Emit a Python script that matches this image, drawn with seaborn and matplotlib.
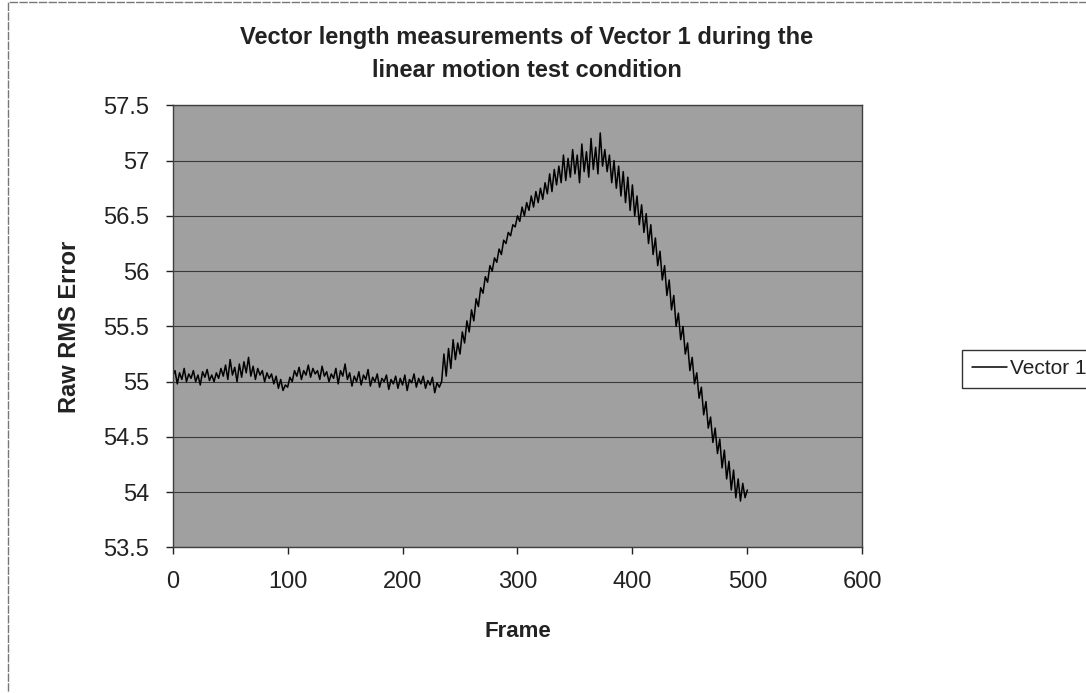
import numpy as np
import pandas as pd
import matplotlib
matplotlib.use("Agg")
import matplotlib.pyplot as plt
from matplotlib.patches import Rectangle
import seaborn as sns

frames = np.arange(0, 501, 2)

flat_part = [
    55.05, 55.10, 54.98, 55.08, 55.02, 55.12, 55.00, 55.07, 55.03, 55.10,
    55.00, 55.06, 54.97, 55.09, 55.04, 55.11, 55.01, 55.06, 55.00, 55.08,
    55.03, 55.12, 55.05, 55.15, 55.02, 55.20, 55.06, 55.13, 55.00, 55.16,
    55.04, 55.18, 55.08, 55.22, 55.05, 55.14, 55.02, 55.12, 55.06, 55.10,
    55.00, 55.08, 55.03, 55.07, 54.98, 55.05, 54.94, 55.02, 54.92, 54.97,
    54.95, 55.04, 55.00, 55.10, 55.05, 55.13, 55.02, 55.10, 55.06, 55.15,
    55.04, 55.12, 55.07, 55.10, 55.02, 55.14, 55.05, 55.09, 55.00, 55.07,
    55.03, 55.12, 54.98, 55.10, 55.05, 55.16, 55.02, 55.08, 54.96, 55.05,
    55.00, 55.09, 54.97, 55.06, 55.02, 55.11, 54.96, 55.04, 55.00, 55.07,
    54.95, 55.03, 55.00, 55.06, 54.93, 55.02, 54.98, 55.05, 54.94, 55.03,
    54.97, 55.06, 54.92, 55.02, 54.99, 55.07, 54.95, 55.03, 54.98, 55.05,
    54.94, 55.01, 54.97, 55.04, 54.90, 54.99, 54.95,
]
rise_part = [
    55.00, 55.25, 55.05, 55.30, 55.12, 55.38, 55.20, 55.35, 55.25, 55.45,
    55.35, 55.55, 55.45, 55.65, 55.55, 55.75, 55.68, 55.85, 55.80, 55.95,
    55.90, 56.05, 56.00, 56.12, 56.08, 56.20, 56.15, 56.28, 56.25, 56.35,
    56.32, 56.42, 56.40, 56.50,
]
peak_part = [
    56.45, 56.58, 56.50, 56.62, 56.55, 56.68, 56.58, 56.72, 56.62, 56.75,
    56.65, 56.80, 56.70, 56.88, 56.72, 56.92, 56.78, 56.95, 56.80, 57.05,
    56.82, 57.02, 56.85, 57.10, 56.88, 57.05, 56.80, 57.15, 56.90, 57.08,
    56.85, 57.20, 56.92, 57.12, 56.88, 57.25, 56.95, 57.10, 56.90, 57.05,
]
fall_part = [
    56.80, 57.00, 56.75, 56.95, 56.68, 56.90, 56.62, 56.85, 56.55, 56.78,
    56.50, 56.68, 56.42, 56.60, 56.35, 56.52, 56.25, 56.42, 56.15, 56.30,
    56.05, 56.18, 55.92, 56.05, 55.78, 55.92, 55.65, 55.78, 55.50, 55.62,
    55.38, 55.50, 55.25, 55.35, 55.10, 55.22, 54.98, 55.08, 54.85, 54.95,
    54.70, 54.82, 54.58, 54.68, 54.45, 54.58, 54.35, 54.48, 54.22, 54.38,
    54.12, 54.28, 54.02, 54.20, 53.95, 54.12, 53.92, 54.08, 53.95, 54.02,
]
vector_1 = flat_part + rise_part + peak_part + fall_part

y_ticks = [53.5, 54, 54.5, 55, 55.5, 56, 56.5, 57, 57.5]
y_tick_labels = ["53.5", "54", "54.5", "55", "55.5", "56", "56.5", "57", "57.5"]
x_ticks = [0, 100, 200, 300, 400, 500, 600]

df = pd.DataFrame({"Frame": frames, "Vector 1": vector_1})

sns.set_style("ticks")
plt.rcParams["font.family"] = ["Liberation Sans", "DejaVu Sans"]

fig = plt.figure(figsize=(10.86, 6.93), dpi=100)
ax = fig.add_axes([0.159, 0.21, 0.635, 0.638])
ax.set_facecolor("#a0a0a0")

sns.lineplot(data=df, x="Frame", y="Vector 1", color="black", linewidth=1.1,
             label="Vector 1", ax=ax)

ax.set_xlim(0, 600)
ax.set_ylim(53.5, 57.5)
ax.set_xticks(x_ticks)
ax.set_yticks(y_ticks)
ax.set_yticklabels(y_tick_labels)
ax.tick_params(axis="both", labelsize=17, direction="out", length=5, width=1, colors="#222222")
ax.tick_params(axis="x", pad=12)
ax.tick_params(axis="y", pad=12)
ax.grid(axis="y", color="#3a3a3a", linewidth=0.8)
ax.grid(axis="x", visible=False)
for s in ax.spines.values():
    s.set_color("#404040")
    s.set_linewidth(1)

ax.set_xlabel("Frame", fontsize=16, fontweight="bold", labelpad=20, color="#222222")
ax.set_ylabel("Raw RMS Error", fontsize=17, fontweight="bold", labelpad=16, color="#222222")
fig.suptitle("Vector length measurements of Vector 1 during the\nlinear motion test condition",
             x=0.485, y=0.962, fontsize=17, fontweight="bold", color="#222222", linespacing=1.55)

ax.get_legend().remove()
leg = fig.legend(loc="center left", bbox_to_anchor=(0.886, 0.468), fontsize=15,
                 frameon=True, fancybox=False, edgecolor="black", handlelength=1.7,
                 handletextpad=0.15, borderpad=0.45, borderaxespad=0)
leg.get_frame().set_linewidth(1)
for t in leg.get_texts():
    t.set_color("#222222")

# chart area border (partly cut off on the right and bottom)
fig.patches.append(Rectangle((0.007, -0.05), 1.2, 1.047, transform=fig.transFigure,
                             fill=False, edgecolor="#777777", linewidth=1, linestyle=(0, (6, 1))))

fig.savefig("out.png", dpi=100)
